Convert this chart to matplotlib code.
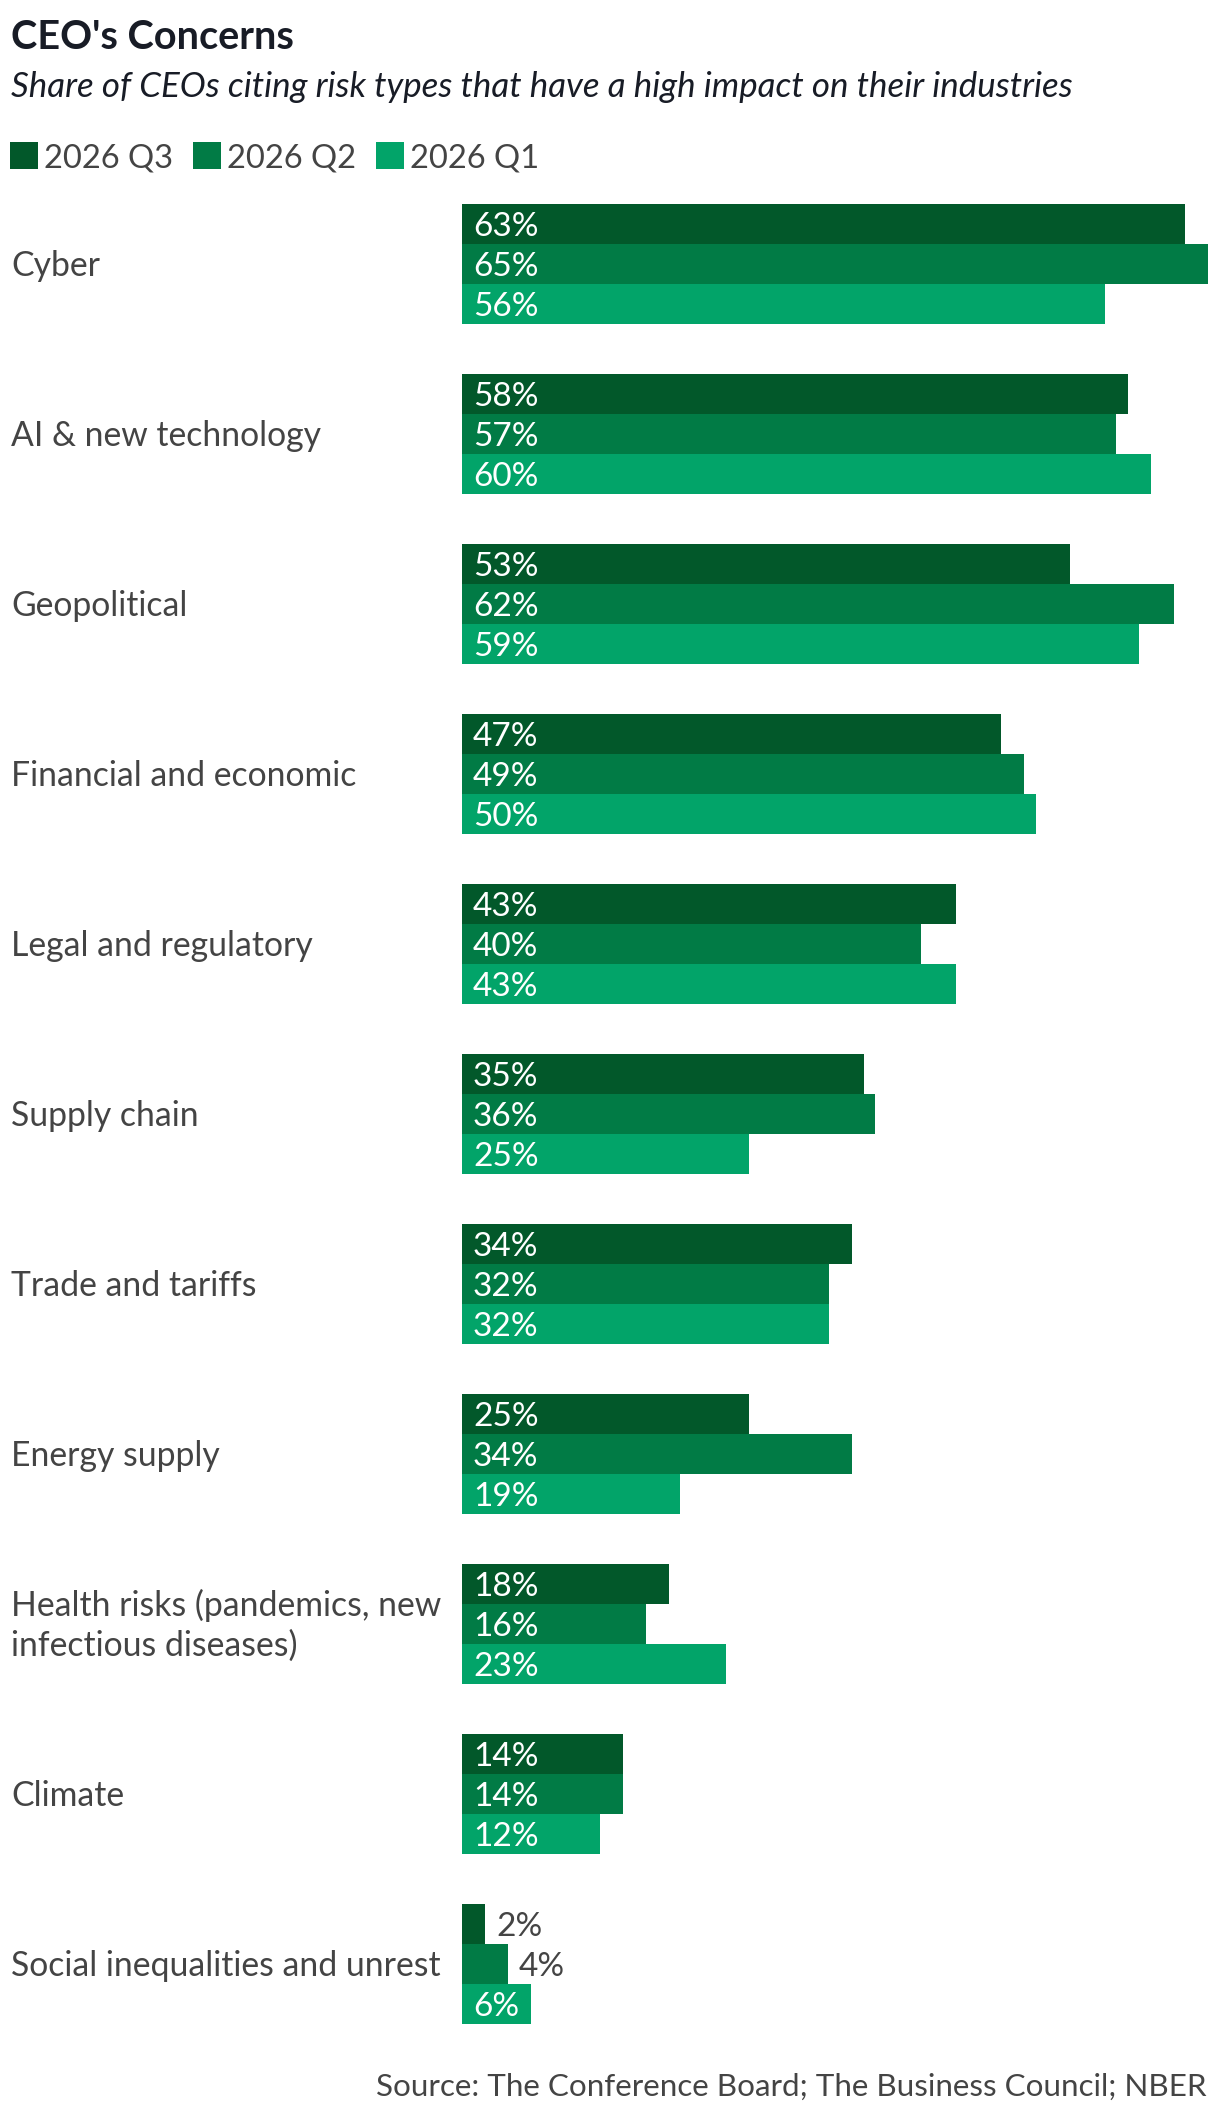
import matplotlib
matplotlib.use("Agg")
import matplotlib.pyplot as plt
from matplotlib.patches import Rectangle
from matplotlib.transforms import blended_transform_factory

# data
categories = [
    "Cyber",
    "AI & new technology",
    "Geopolitical",
    "Financial and economic",
    "Legal and regulatory",
    "Supply chain",
    "Trade and tariffs",
    "Energy supply",
    "Health risks (pandemics, new\ninfectious diseases)",
    "Climate",
    "Social inequalities and unrest",
]
q3_2026 = [63, 58, 53, 47, 43, 35, 34, 25, 18, 14, 2]
q2_2026 = [65, 57, 62, 49, 40, 36, 32, 34, 16, 14, 4]
q1_2026 = [56, 60, 59, 50, 43, 25, 32, 19, 23, 12, 6]
series_names = ["2026 Q3", "2026 Q2", "2026 Q1"]
series_values = [q3_2026, q2_2026, q1_2026]

colors = ["#02582a", "#017b45", "#02a469"]
TEXT = "#444444"
DARK = "#181c26"
FONT = "Lato"

W, H, DPI = 1220, 2112, 100
PX = 72 / DPI  # points per pixel

fig = plt.figure(figsize=(W / DPI, H / DPI), dpi=DPI)
fig.patch.set_facecolor("white")

# axes placement in pixels
ax_left, ax_right = 462, 1208
ax_top, ax_bottom = 204, 2024
ax = fig.add_axes([ax_left / W, 1 - ax_bottom / H,
                   (ax_right - ax_left) / W, (ax_bottom - ax_top) / H])

bar_h = 40 / 170
n = len(categories)
ax.set_xlim(0, 65)
ax.set_ylim(n - 1 + 1.5 * bar_h, -1.5 * bar_h)
ax.axis("off")

for j, (vals, col) in enumerate(zip(series_values, colors)):
    ys = [i + (j - 1) * bar_h for i in range(n)]
    ax.barh(ys, vals, height=bar_h, color=col, linewidth=0)
    for y, v in zip(ys, vals):
        inside = v >= 5
        ax.annotate(f"{v}%", xy=(0 if inside else v, y),
                    xytext=(11 * PX, -11.8 * PX),
                    textcoords="offset points", ha="left", va="baseline",
                    color="white" if inside else TEXT,
                    fontsize=24, family=FONT)

# category labels
lab_tr = blended_transform_factory(fig.transFigure, ax.transData)
cap = 23.5
pitch = 40
for i, cat in enumerate(categories):
    lines = cat.split("\n")
    block = cap + (len(lines) - 1) * pitch
    first = -block / 2 + cap
    for k, line in enumerate(lines):
        off = first + k * pitch
        ax.annotate(line, xy=(11 / W, i), xycoords=lab_tr,
                    xytext=(0, -off * PX), textcoords="offset points",
                    ha="left", va="baseline", color=TEXT,
                    fontsize=24.3, family=FONT)

# title and subtitle
fig.text(11 / W, 1 - 49 / H, "CEO's Concerns", ha="left", va="baseline",
         fontsize=28.5, fontweight="bold", color=DARK, family=FONT)
fig.text(11 / W, 1 - 97 / H,
         "Share of CEOs citing risk types that have a high impact on their industries",
         ha="left", va="baseline", fontsize=25.1, style="italic",
         color=DARK, family=FONT)

# legend
renderer = fig.canvas.get_renderer()
x = 10
for name, col in zip(series_names, colors):
    fig.patches.append(Rectangle((x / W, 1 - 169 / H), 28 / W, 27 / H,
                                 transform=fig.transFigure, color=col,
                                 linewidth=0))
    t = fig.text((x + 34) / W, 1 - 168 / H, name, ha="left", va="baseline",
                 fontsize=23.6, color=TEXT, family=FONT)
    bb = t.get_window_extent(renderer)
    x = bb.x1 + 20

# source
fig.text(1207 / W, 1 - 2096 / H,
         "Source: The Conference Board; The Business Council; NBER",
         ha="right", va="baseline", fontsize=22.6, color=TEXT, family=FONT)

fig.savefig("out.png", dpi=DPI, facecolor="white")
